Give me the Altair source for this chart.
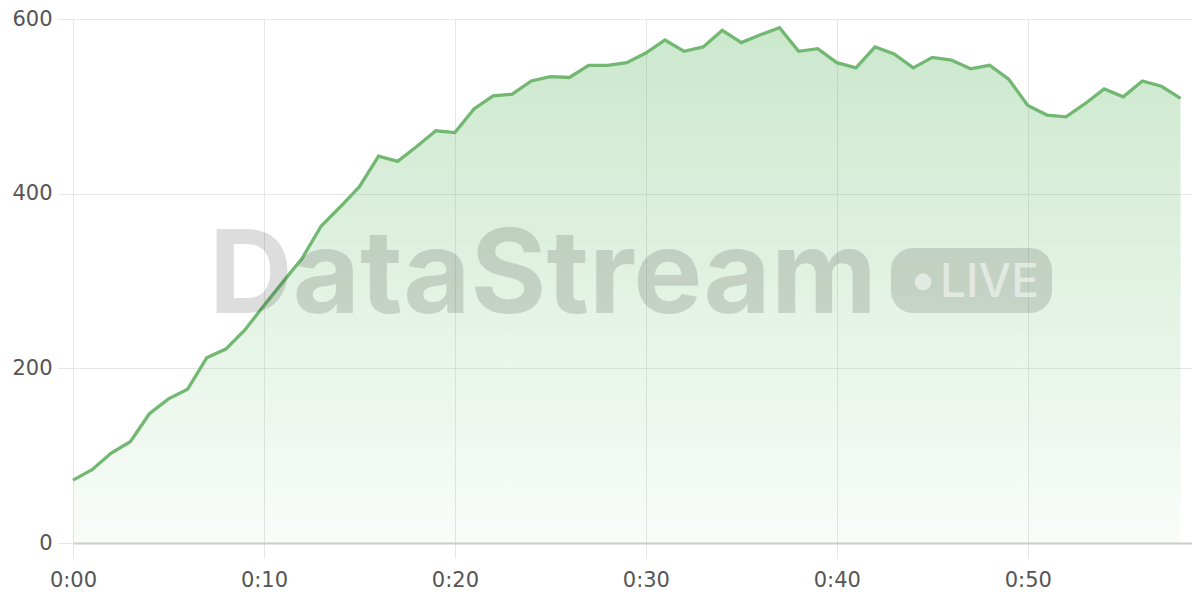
import altair as alt
import pandas as pd

minutes = list(range(59))
values = [72, 84, 103, 116, 148, 165, 176, 212, 222, 244,
          272, 299, 326, 363, 385, 408, 443, 437, 454, 472,
          470, 497, 512, 514, 529, 534, 533, 547, 547, 550,
          561, 576, 563, 568, 587, 573, 582, 590, 563, 566,
          550, 544, 568, 560, 544, 556, 553, 543, 547, 531,
          501, 490, 488, 503, 520, 511, 529, 523, 509]
x_ticks = [0, 10, 20, 30, 40, 50]
y_ticks = [0, 200, 400, 600]
watermark = "DataStream"
badge = "LIVE"

df = pd.DataFrame({"minute": minutes, "value": values})

FONT = "DejaVu Sans"
GRID = "#e6e6e6"

x_enc = alt.X("minute:Q",
              scale=alt.Scale(domain=[0, 58.6], nice=False, zero=False),
              axis=alt.Axis(values=x_ticks, title=None, grid=True, gridColor=GRID,
                            tickColor=GRID, tickSize=15, domainColor="#cccccc",
                            domainWidth=2, labelFontSize=21, labelColor="#555555",
                            labelFont=FONT, labelPadding=11, labelFlush=False,
                            labelExpr="'0:' + (datum.value < 10 ? '0' : '') + datum.value"))
y_enc = alt.Y("value:Q",
              scale=alt.Scale(domain=[0, 600], nice=False),
              axis=alt.Axis(values=y_ticks, title=None, grid=True, gridColor=GRID,
                            tickColor=GRID, tickSize=15, domain=False,
                            labelFontSize=21, labelColor="#555555", labelFont=FONT,
                            labelPadding=6, labelFlush=False))

grad = alt.Gradient(
    gradient="linear",
    stops=[alt.GradientStop(color="rgba(102,187,106,0.04)", offset=0),
           alt.GradientStop(color="rgba(102,187,106,0.34)", offset=1)],
    x1=1, x2=1, y1=1, y2=0)

base = alt.Chart(df)
area = base.mark_area(color=grad, line=False).encode(x=x_enc, y=y_enc)
line = base.mark_line(color="#72b872", strokeWidth=3.3).encode(x="minute:Q", y="value:Q")

one = pd.DataFrame({"t": [watermark], "b": [badge]})
wm = alt.Chart(one).mark_text(font="Inter", fontSize=116, fontWeight=700,
                              align="left", baseline="alphabetic",
                              color="#000000", opacity=0.13).encode(
    x=alt.value(136), y=alt.value(294), text="t:N")
pill = alt.Chart(one).mark_rect(cornerRadius=22, color="#000000", opacity=0.13).encode(
    x=alt.value(818), x2=alt.value(979), y=alt.value(229), y2=alt.value(294))
dot = alt.Chart(one).mark_circle(size=283, color="#ffffff", opacity=0.5).encode(
    x=alt.value(850), y=alt.value(263))
live = alt.Chart(one).mark_text(font="Inter", fontSize=46, fontWeight=500,
                                align="left", baseline="alphabetic",
                                color="#ffffff", opacity=0.5).encode(
    x=alt.value(867), y=alt.value(278), text="b:N")

chart = alt.layer(area, line, wm, pill, dot, live).properties(
    width=1119, height=524,
    padding={"left": 65, "top": 11, "right": 0, "bottom": 50},
    autosize=alt.AutoSizeParams(type="none"),
).configure_view(stroke=None).configure(background="#ffffff")

chart.save("out.html", embed_options={"renderer": "svg", "actions": False})
